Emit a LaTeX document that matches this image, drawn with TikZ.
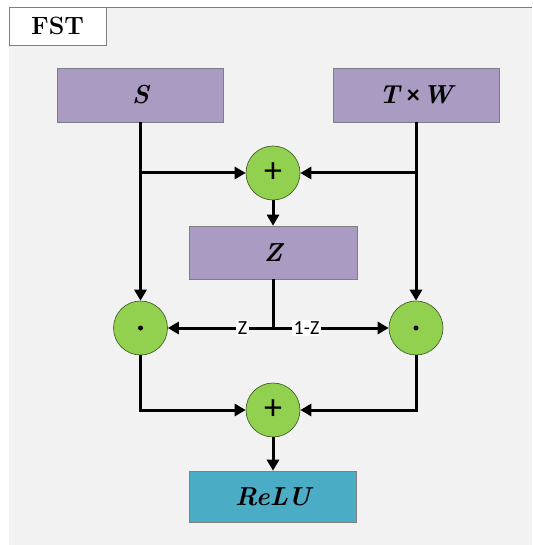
\documentclass[tikz,border=0pt]{standalone}
\usepackage{fontspec}
\newfontfamily\labelfont{Carlito}
\usetikzlibrary{arrows.meta,calc}
\definecolor{panelbg}{HTML}{F2F2F2}
\definecolor{boxpurple}{HTML}{A99BC1}
\definecolor{boxteal}{HTML}{4BACC6}
\definecolor{opgreen}{HTML}{92D050}
\definecolor{edgegray}{HTML}{7F7F7F}
\tikzset{
  block/.style={draw=edgegray, line width=0.6pt, minimum width=166pt, minimum height=54pt,
    inner sep=0pt, font=\fontsize{26pt}{30pt}\selectfont\bfseries\itshape},
  opnode/.style={circle, draw=black!60!opgreen, line width=0.6pt, fill=opgreen,
    minimum size=54pt, inner sep=0pt},
  optext/.style={font=\labelfont\fontsize{36pt}{36pt}\selectfont},
  flow/.style={line width=3pt, -{Triangle[length=11pt,width=12pt]}},
  wire/.style={line width=3pt},
  gatelabel/.style={fill=white, inner sep=1.5pt, font=\labelfont\fontsize{20pt}{22pt}\selectfont}
}
\begin{document}
\begin{tikzpicture}[x=1pt,y=-1pt]
  \useasboundingbox (0,0) rectangle (532,545);
  % panel
  \fill[panelbg] (9,7) rectangle (532,545);
  \draw[edgegray, line width=0.8pt] (9,7) -- (532,7);
  % title tab
  \node[draw=edgegray, line width=0.6pt, fill=white, minimum width=97pt, minimum height=38pt,
        inner sep=0pt, font=\fontsize{25pt}{28pt}\selectfont\bfseries] (fst) at (57.5,26) {FST};
  % blocks
  \node[block, fill=boxpurple] (s) at (140.5,95) {S};
  \node[block, fill=boxpurple] (tw) at (416,95) {T\/\kern5pt{\labelfont\upshape\bfseries ×}\kern3pt W};
  \node[block, fill=boxpurple, minimum width=168pt, minimum height=53pt] (z) at (273,252.5) {Z};
  \node[block, fill=boxteal, minimum width=167pt, minimum height=51pt] (relu) at (273,496.5) {ReLU};
  % operators
  \node[opnode] (plusa) at (273,173) {};
  \node[optext] at (plusa.center) {+};
  \node[opnode] (dotl) at (140.5,328) {};
  \node[opnode] (dotr) at (416,328) {};
  \fill (dotl.center) circle (2.5pt);
  \fill (dotr.center) circle (2.5pt);
  \node[opnode] (plusb) at (273,410) {};
  \node[optext] at (plusb.center) {+};
  % junctions
  \coordinate (jl) at (s.south |- plusa.west);
  \coordinate (jr) at (tw.south |- plusa.east);
  \coordinate (jz) at (z.south |- dotl.east);
  % connectors
  \draw[flow] (s.south) -- (dotl.north);
  \draw[flow] (tw.south) -- (dotr.north);
  \draw[flow] (jl) -- (plusa.west);
  \draw[flow] (jr) -- (plusa.east);
  \draw[flow] (plusa.south) -- (z.north);
  \draw[wire] (z.south) -- (jz);
  \draw[flow] (jz) -- node[gatelabel, pos=0.29] {Z} (dotl.east);
  \draw[flow] (jz) -- node[gatelabel, pos=0.29] {1-Z} (dotr.west);
  \draw[flow] (dotl.south) |- (plusb.west);
  \draw[flow] (dotr.south) |- (plusb.east);
  \draw[flow] (plusb.south) -- (relu.north);
\end{tikzpicture}
\end{document}
